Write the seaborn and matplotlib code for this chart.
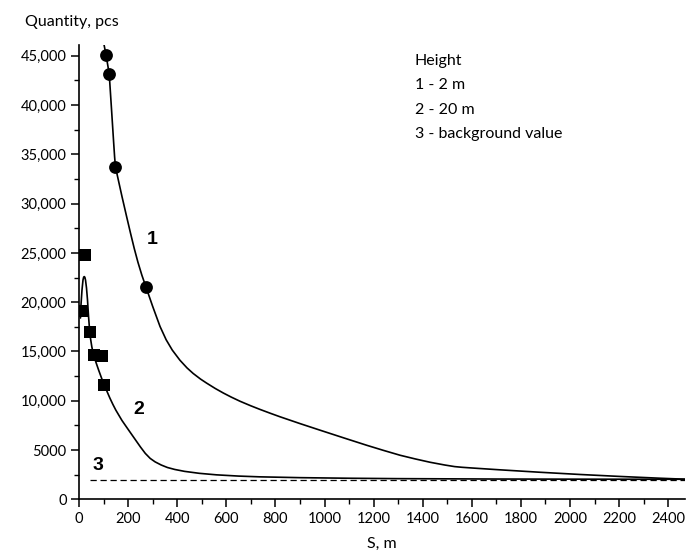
import matplotlib
matplotlib.use("Agg")
import matplotlib.pyplot as plt
import seaborn as sns
import pandas as pd
from matplotlib.ticker import MultipleLocator

# ---- data ----
pts1_x = [110, 123, 147, 273]
pts1_y = [45100, 43200, 33700, 21550]

pts2_x = [12, 25.6, 43.5, 60, 92, 103]
pts2_y = [19150, 24800, 17000, 14650, 14500, 11630]

curve1_x = [102, 110, 123, 133, 141, 145, 147, 149, 152, 160, 175, 194, 210, 225, 240,
            256, 273, 300, 330, 355, 380, 411, 440, 465, 495, 520, 555, 588, 620, 656,
            700, 737, 780, 819, 900, 982, 1080, 1172, 1240, 1308, 1370, 1430, 1490,
            1530, 1560, 1600, 1633, 1715, 1878, 2041, 2204, 2367, 2468]
curve1_y = [46120, 45100, 43180, 39350, 36250, 34750, 34150, 33740, 33330, 32420, 30730,
            28680, 26984, 25454, 24059, 22747, 21523, 19579, 17539, 16189, 15139, 14116,
            13333, 12771, 12201, 11788, 11246, 10784, 10374, 9949, 9487, 9124, 8724,
            8373, 7685, 7013, 6219, 5483, 4966, 4470, 4095, 3760, 3480, 3320, 3250, 3180,
            3125, 2992, 2745, 2520, 2320, 2140, 2040]

curve2_x = [6, 8.1, 12.2, 16.3, 19, 21.6, 24, 26.5, 30.5, 34.6, 38.7, 43.6, 47, 52, 57,
            63, 70, 80, 92, 103, 115, 126, 138, 150, 175, 200, 225, 250, 270, 290, 310,
            335, 360, 390, 430, 490, 560, 650, 737, 900, 1100, 1300, 1700, 2100, 2468]
curve2_y = [18400, 19730, 21250, 22260, 22550, 22600, 22520, 22250, 21450, 20230, 18610,
            17015, 16300, 15500, 14900, 14350, 13830, 13110, 12290, 11600, 10890, 10260,
            9630, 9050, 8000, 7100, 6210, 5320, 4660, 4150, 3800, 3480, 3230, 3030, 2836,
            2638, 2484, 2358, 2280, 2198, 2138, 2098, 2058, 2042, 2035]

bg_x = [45, 2470]
bg_y = [2000, 2000]

y_ticks = [0, 5000, 10000, 15000, 20000, 25000, 30000, 35000, 40000, 45000]
y_tick_labels = ["0", "5000", "10,000", "15,000", "20,000", "25,000", "30,000",
                 "35,000", "40,000", "45,000"]
x_ticks = list(range(0, 2401, 200))

legend_lines = ["Height", "1 - 2 m", "2 - 20 m", "3 - background value"]

# ---- plotting ----
sns.set_theme(style="ticks")
plt.rcParams["font.family"] = ["Lato", "DejaVu Sans"]

fig = plt.figure(figsize=(6.87, 5.54), dpi=100)
ax = fig.add_axes([0.115, 0.0987, 0.882, 0.8201])

df1 = pd.DataFrame({"x": curve1_x, "y": curve1_y})
df2 = pd.DataFrame({"x": curve2_x, "y": curve2_y})
dfb = pd.DataFrame({"x": bg_x, "y": bg_y})
sns.lineplot(data=df1, x="x", y="y", ax=ax, color="black", lw=1.2, sort=False,
             estimator=None)
sns.lineplot(data=df2, x="x", y="y", ax=ax, color="black", lw=1.2, sort=False,
             estimator=None)
sns.lineplot(data=dfb, x="x", y="y", ax=ax, color="black", lw=0.9, sort=False,
             estimator=None, linestyle=(0, (5, 3)))

p1 = pd.DataFrame({"x": pts1_x, "y": pts1_y})
p2 = pd.DataFrame({"x": pts2_x, "y": pts2_y})
sns.scatterplot(data=p1, x="x", y="y", ax=ax, color="black", marker="o", s=85,
                edgecolor="black", linewidth=0, zorder=5)
sns.scatterplot(data=p2, x="x", y="y", ax=ax, color="black", marker="s", s=75,
                edgecolor="black", linewidth=0, zorder=5)

ax.set_xlim(0, 2468)
ax.set_ylim(0, 46100)
ax.set_xticks(x_ticks)
ax.set_xticklabels([str(v) for v in x_ticks])
ax.set_yticks(y_ticks)
ax.set_yticklabels(y_tick_labels)
ax.xaxis.set_minor_locator(MultipleLocator(100))
ax.yaxis.set_minor_locator(MultipleLocator(2500))
ax.tick_params(axis="both", which="major", direction="out", length=6, width=1.1,
               labelsize=10.5, color="black", labelcolor="black", pad=3)
ax.tick_params(axis="both", which="minor", direction="out", length=3.5, width=1.0,
               color="black")
for s in ["top", "right"]:
    ax.spines[s].set_visible(False)
for s in ["left", "bottom"]:
    ax.spines[s].set_color("black")
    ax.spines[s].set_linewidth(1.2)

ax.set_xlabel("S, m", fontsize=11.5, color="black", labelpad=8)
ax.set_ylabel("")
fig.text(25 / 687, 1 - 21.7 / 554, "Quantity, pcs", fontsize=11.5, color="black",
         va="center", ha="left")

for lbl, (px, py) in zip(["1", "2", "3"], [(151.7, 240), (139, 410), (98, 465)]):
    fig.text(px / 687, 1 - py / 554, lbl, fontsize=14, fontweight="bold",
             family=["Liberation Sans", "DejaVu Sans"], ha="center", va="center",
             color="black")

for i, t in enumerate(legend_lines):
    fig.text(415 / 687, 1 - (61 + i * 24.3) / 554, t, fontsize=11.5, color="black",
             ha="left", va="center")

fig.savefig("out.png", dpi=100)
